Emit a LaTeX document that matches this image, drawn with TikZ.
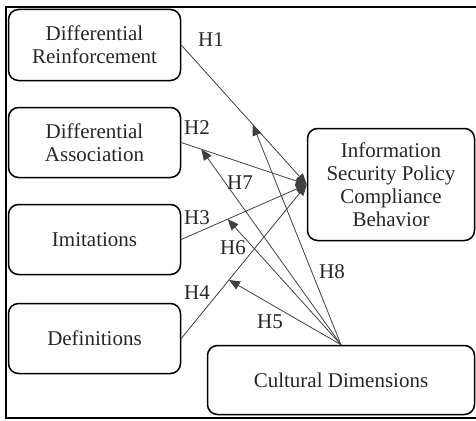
\documentclass[tikz,border=0pt]{standalone}
\usepackage{fontspec}
\setmainfont{Liberation Serif}
\usetikzlibrary{arrows.meta,calc}

\tikzset{
    construct/.style={draw, line width=1.5pt, rounded corners=10pt, align=center,
        text=black!85, inner sep=0pt},
    link/.style={-{Triangle[length=11pt,width=9pt]}, line width=0.8pt, draw=black!75},
    hyp/.style={text=black!85, inner sep=0pt}
}

\begin{document}
\begin{tikzpicture}[x=1pt, y=-1pt, font=\fontsize{21}{23}\selectfont]
    \useasboundingbox (0,0) rectangle (476,420);
    % ramka
    \draw[line width=1.5pt] (482,7) -- (6,7) -- (6,418) -- (482,418);

    % --- PREDYKTORY ---
    \node[construct, minimum width=172pt, minimum height=71pt] (dr) at (94.5,45) {Differential\\Reinforcement};
    \node[construct, minimum width=172pt, minimum height=70pt] (da) at (94.5,142.5) {Differential\\Association};
    \node[construct, minimum width=172pt, minimum height=70pt] (im) at (94.5,239.5) {Imitations};
    \node[construct, minimum width=172pt, minimum height=70pt] (df) at (94.5,338.5) {Definitions};

    % --- ZMIENNA ZALEZNA I MODERATOR ---
    \node[construct, minimum width=167pt, minimum height=112pt] (isp) at (391,184.5)
        {Information\\Security Policy\\Compliance\\Behavior};
    \node[construct, minimum width=267pt, minimum height=69pt] (cd) at (341,380) {Cultural Dimensions};

    % --- SCIEZKI GLOWNE ---
    \draw[link] (dr.east) -- (isp.west);
    \draw[link] (da.east) -- (isp.west);
    \draw[link] (im.east) -- (isp.west);
    \draw[link] (df.east) -- (isp.west);

    % punkty moderacji na sciezkach
    \coordinate (m1) at ($(dr.east)!0.57!(isp.west)$);
    \coordinate (m2) at ($(da.east)!0.16!(isp.west)$);
    \coordinate (m3) at ($(im.east)!0.37!(isp.west)$);
    \coordinate (m4) at ($(df.east)!0.38!(isp.west)$);

    % --- MODERACJA ---
    \draw[link] (cd.north) -- (m4);
    \draw[link] (cd.north) -- (m3);
    \draw[link] (cd.north) -- (m2);
    \draw[link] (cd.north) -- (m1);

    % etykiety hipotez
    \node[hyp] (h1) at (211,40) {H1};
    \node[hyp] (h2) at (197,128) {H2};
    \node[hyp] (h3) at (197,218) {H3};
    \node[hyp] (h4) at (197,293) {H4};
    \node[hyp] (h5) at (270,322) {H5};
    \node[hyp] (h6) at (233,248) {H6};
    \node[hyp] (h7) at (240,183) {H7};
    \node[hyp] (h8) at (332,272) {H8};
\end{tikzpicture}
\end{document}
